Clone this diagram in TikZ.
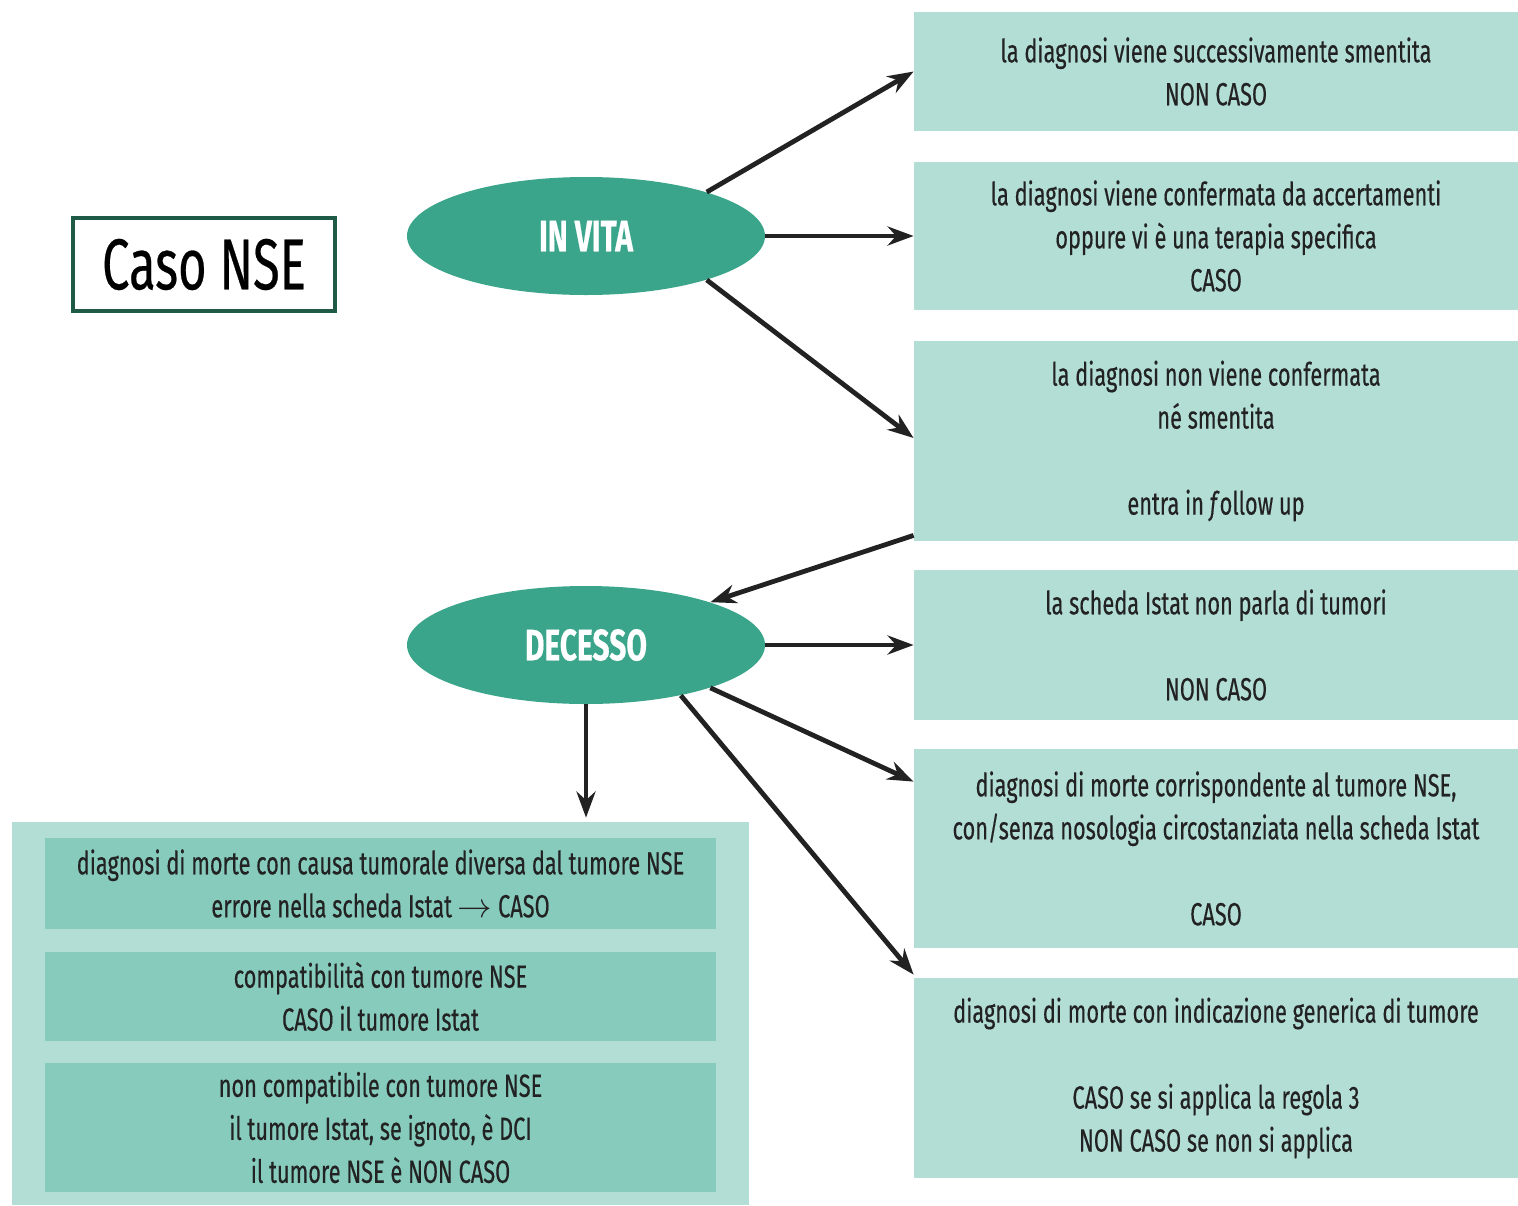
\documentclass[tikz,border=0pt]{standalone}
\usepackage{fontspec}
\setmainfont{Fira Sans}[FakeStretch=0.68, FakeBold=0.35]
\usetikzlibrary{shapes.geometric,arrows.meta}
\definecolor{verdescuro}{HTML}{1E5A45}
\definecolor{verdeellisse}{HTML}{3AA58A}
\definecolor{verdechiaro}{HTML}{B3DED6}
\definecolor{verdemedio}{HTML}{87CBBD}
\definecolor{nerofreccia}{HTML}{222222}
\begin{document}
\begin{tikzpicture}[x=0.5pt,y=-0.5pt,
  esito/.style={fill=verdechiaro, minimum width=302pt, inner sep=0pt, align=center,
    text=nerofreccia, font=\fontsize{16}{21.5}\selectfont},
  interno/.style={fill=verdemedio, minimum width=335.5pt, inner sep=0pt, align=center,
    text=nerofreccia, font=\fontsize{16}{21.5}\selectfont},
  stato/.style={ellipse, fill=verdeellisse, minimum width=179pt, minimum height=59pt,
    inner sep=0pt, text=white, font=\fontsize{22}{24}\selectfont\bfseries},
  freccia/.style={draw=nerofreccia, line width=2.4pt, -{Stealth[length=13pt,width=9.5pt]}}]
\useasboundingbox (0,0) rectangle (1518,1205);

\node[draw=verdescuro, line width=2pt, minimum width=131pt, minimum height=46.5pt,
  font=\fontsize{36}{40}\selectfont] (titolo) at (204,264.5) {Caso NSE};

\node[stato] (invita) at (586,236) {IN VITA};
\node[stato] (decesso) at (586,645) {DECESSO};

% esiti a destra
\node[esito, minimum height=59.5pt] (smentita) at (1216,71.5)
  {la diagnosi viene successivamente smentita\\NON CASO};
\node[esito, minimum height=74pt] (confermata) at (1216,236)
  {la diagnosi viene confermata da accertamenti\\oppure vi è una terapia specifica\\CASO};
\node[esito, minimum height=100pt] (followup) at (1216,441)
  {la diagnosi non viene confermata\\né smentita\\[21.5pt]entra in \textit{f}ollow up};
\node[esito, minimum height=75pt] (notumori) at (1216,645)
  {la scheda Istat non parla di tumori\\[21.5pt]NON CASO};
\node[esito, minimum height=99.5pt] (corrisp) at (1216,848.5)
  {diagnosi di morte corrispondente al tumore NSE,\\con/senza nosologia circostanziata nella scheda Istat\\[21.5pt]CASO};
\node[esito, minimum height=100pt] (generica) at (1216,1078)
  {diagnosi di morte con indicazione generica di tumore\\[21.5pt]CASO se si applica la regola 3\\NON CASO se non si applica};

% riquadro in basso a sinistra
\node[fill=verdechiaro, minimum width=368.5pt, minimum height=191.5pt, inner sep=0pt] (diversa) at (380.5,1013.5) {};
\node[interno, minimum height=45.5pt] (errore) at (380.5,883.5)
  {diagnosi di morte con causa tumorale diversa dal tumore NSE\\errore nella scheda Istat $\rightarrow$ CASO};
\node[interno, minimum height=44.5pt] (compat) at (380.5,996.5)
  {compatibilità con tumore NSE\\CASO il tumore Istat};
\node[interno, minimum height=64.5pt] (noncompat) at (380.5,1127.5)
  {non compatibile con tumore NSE\\il tumore Istat, se ignoto, è DCI\\il tumore NSE è NON CASO};

% frecce
\draw[freccia] (invita.20) -- (smentita.west);
\draw[freccia] (invita.east) -- (confermata.west);
\draw[freccia] (invita.-20) -- ([yshift=1.5pt]followup.west);
\draw[freccia] ([yshift=3pt]followup.south west) -- (decesso.19);
\draw[freccia] (decesso.east) -- (notumori.west);
\draw[freccia] (decesso.-19) -- ([yshift=-16.5pt]corrisp.north west);
\draw[freccia] (decesso.-28) -- ([yshift=1.5pt]generica.north west);
\draw[freccia] (decesso.south) -- ([yshift=2pt]decesso.south |- diversa.north);
\end{tikzpicture}
\end{document}
